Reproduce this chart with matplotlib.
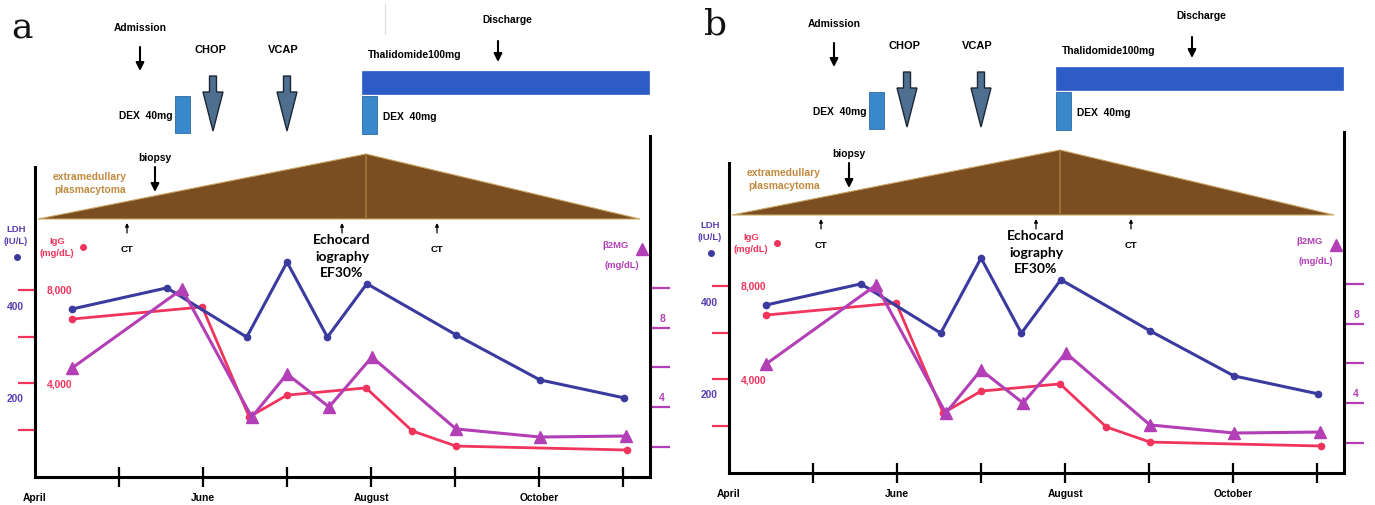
import matplotlib
matplotlib.use('Agg')
import matplotlib.pyplot as plt
from matplotlib.patches import Polygon, Rectangle, FancyArrow
import matplotlib.transforms as mtransforms

# ---------------- data ----------------
month_labels = ['April', 'June', 'August', 'October']
month_label_pos = [0, 2, 4, 6]
month_ticks = [1, 2, 3, 4, 5, 6, 7]

ldh_x = [0.44, 1.57, 2.52, 3.00, 3.48, 3.95, 5.01, 6.01, 7.01]
ldh = [391, 437, 330, 493, 330, 446, 335, 237, 198]

igg_x = [0.44, 1.99, 2.55, 3.00, 3.94, 4.49, 5.01, 7.05]
igg = [6750, 7270, 2540, 3480, 3790, 1940, 1290, 1120]

b2_x = [0.44, 1.75, 2.58, 3.00, 3.50, 4.01, 5.01, 6.01, 7.03]
b2 = [5.97, 9.97, 3.49, 5.67, 4.00, 6.53, 2.89, 2.48, 2.53]

igg_ticks = [2000, 4000, 6000, 8000]
igg_labels = {8000: '8,000', 4000: '4,000'}
ldh_ticks = [200, 400]
b2_ticks = [2, 4, 6, 8, 10]
b2_labels = {8: '8', 4: '4'}

# ---------------- style ----------------
W, H = 1375, 506
C_LDH = '#3b3a9f'
C_LDH_TXT = '#5b3fae'
C_IGG = '#f0345c'
C_B2 = '#b23fb5'
C_BROWN = '#7b4e22'
C_TAN = '#c08a40'
C_THAL = '#2d5cc6'
C_DEX = '#3a88cc'
C_ARROW = '#4f6f90'
FONT = 'Liberation Sans'
FS = 7.4

fig = plt.figure(figsize=(13.75, 5.06), dpi=100)
fig.patch.set_facecolor('white')

ov = fig.add_axes([0, 0, 1, 1])
ov.set_xlim(0, W)
ov.set_ylim(H, 0)
ov.axis('off')


def fig_axes(x0, y0, x1, y1):
    return fig.add_axes([x0 / W, 1 - y1 / H, (x1 - x0) / W, (y1 - y0) / H])


def panel(ox, oy, letter):
    def T(x, y, s, **kw):
        d = dict(ha='center', va='center', fontsize=FS, fontweight='bold',
                 family=FONT, color='black')
        d.update(kw)
        ov.text(x + ox, y + oy, s, **d)

    def arrow(x, y0, y1, lw=1.5, ms=12):
        ov.annotate('', xy=(x + ox, y1 + oy), xytext=(x + ox, y0 + oy),
                    arrowprops=dict(arrowstyle='-|>', lw=lw, color='black',
                                    mutation_scale=ms, shrinkA=0, shrinkB=0))

    # panel letter
    ov.text(22 + ox, 28 + oy, letter, ha='center', va='center',
            fontsize=26, family='DejaVu Serif', color='#111111')

    # top timeline
    T(140, 28, 'Admission')
    arrow(140, 48, 72)
    T(211, 50, 'CHOP', fontsize=7.9)
    T(283, 50, 'VCAP', fontsize=7.9)
    for xc in (213, 287):
        ov.add_patch(FancyArrow(xc + ox, 77 + oy, 0, 55, width=7,
                                head_width=20, head_length=39,
                                length_includes_head=True, fc=C_ARROW,
                                ec='#1c2733', lw=1.0))
    T(173, 116, 'DEX  40mg', ha='right')
    ov.add_patch(Rectangle((175 + ox, 97 + oy), 15, 37, fc=C_DEX,
                           ec='#2a6aa8', lw=0.6))
    T(507, 20, 'Discharge')
    arrow(498, 42, 63)
    T(368, 55, 'Thalidomide100mg', ha='left')
    ov.add_patch(Rectangle((362 + ox, 72 + oy), 287, 23, fc=C_THAL,
                           ec=C_THAL, lw=0.5))
    ov.add_patch(Rectangle((362 + ox, 97 + oy), 15, 38, fc=C_DEX,
                           ec='#2a6aa8', lw=0.6))
    T(383, 117, 'DEX  40mg', ha='left')

    # plasmacytoma
    T(155, 158, 'biopsy')
    arrow(155, 168, 193)
    T(90, 177, 'extramedullary', color=C_TAN)
    T(90, 190, 'plasmacytoma', color=C_TAN)
    ov.add_patch(Polygon([(38 + ox, 220 + oy), (366 + ox, 155 + oy),
                          (640 + ox, 220 + oy)], closed=True, fc=C_BROWN,
                         ec='#c9a766', lw=0.8))
    ov.plot([366 + ox, 366 + ox], [156 + oy, 219 + oy], color='#9c7434', lw=1.4)

    # small arrows: CT, echo, CT
    for xa in (127, 342, 437):
        arrow(xa, 234, 224, lw=0.9, ms=5)
    T(127, 250, 'CT', fontsize=6.8)
    T(437, 250, 'CT', fontsize=6.8)
    for yy, s in ((240, 'Echocard'), (257, 'iography'), (273, 'EF30%')):
        ov.text(342 + ox, yy + oy, s, ha='center', va='center', fontsize=10,
                fontweight='bold', family='Lato', color='black')

    # axis legends
    T(16, 230, 'LDH', color=C_LDH_TXT, fontsize=6.8)
    T(16, 242, '(IU/L)', color=C_LDH_TXT, fontsize=6.8)
    ov.plot(17 + ox, 258 + oy, 'o', color=C_LDH, ms=4)
    T(57, 241, 'IgG', color=C_IGG, fontsize=6.8)
    T(57, 253, '(mg/dL)', color=C_IGG, fontsize=6.8)
    ov.plot(83 + ox, 248 + oy, 'o', color=C_IGG, ms=4)
    T(616, 245, 'β2MG', color=C_B2, fontsize=6.8)
    ov.plot(642 + ox, 250 + oy, '^', color=C_B2, ms=9)
    T(622, 265, '(mg/dL)', color=C_B2, fontsize=6.8)

    # ---------------- data axes ----------------
    ax = fig_axes(35 + ox, 137 + oy, 650 + ox, 478 + oy)
    ax.patch.set_alpha(0)
    ax.set_xlim(0, 7.32)
    ax.set_ylim(-40, 14620)
    axl = ax.twinx()
    axb = ax.twinx()
    axl.set_ylim(26, 767)
    axb.set_ylim(0.456, 17.72)

    for a in (ax, axl, axb):
        for s in a.spines.values():
            s.set_visible(False)
        a.patch.set_alpha(0)

    ax.spines['left'].set_visible(True)
    ax.spines['left'].set_linewidth(2.2)
    ax.spines['left'].set_bounds(-40, 13290)
    ax.spines['bottom'].set_visible(True)
    ax.spines['bottom'].set_linewidth(2.2)
    axb.spines['right'].set_visible(True)
    axb.spines['right'].set_linewidth(2.2)

    # x ticks
    ax.xaxis.remove_overlapping_locs = False
    ax.set_xticks(month_ticks)
    ax.set_xticklabels([])
    ax.tick_params(axis='x', which='major', direction='inout', length=14.5,
                   width=1.6, color='black')
    ax.set_xticks(month_label_pos, minor=True)
    ax.set_xticklabels(month_labels, minor=True)
    ax.tick_params(axis='x', which='minor', length=0, pad=11, labelsize=FS)
    for lab in ax.get_xticklabels(minor=True):
        lab.set_fontweight('bold')
        lab.set_family(FONT)

    # IgG ticks (left, red)
    ax.set_yticks(igg_ticks)
    ax.set_yticklabels([])
    ax.tick_params(axis='y', which='major', direction='out', length=12,
                   width=1.6, color=C_IGG)
    for v, s in igg_labels.items():
        ax.text(0.04, v, s, transform=ax.get_yaxis_transform(), ha='center',
                va='center', fontsize=FS, fontweight='bold', family=FONT,
                color=C_IGG)

    # LDH labels (left, no tick marks)
    axl.yaxis.tick_left()
    axl.set_yticks(ldh_ticks)
    axl.set_yticklabels([str(t) for t in ldh_ticks])
    axl.tick_params(axis='y', length=0, pad=8, labelsize=FS,
                    labelcolor=C_LDH_TXT)
    for lab in axl.get_yticklabels():
        lab.set_fontweight('bold')
        lab.set_family(FONT)
    axl.tick_params(axis='x', bottom=False, labelbottom=False)

    # b2MG ticks (right, purple)
    axb.set_yticks(b2_ticks)
    axb.set_yticklabels([])
    axb.tick_params(axis='y', direction='out', length=14.5, width=1.6,
                    color=C_B2)
    off = mtransforms.ScaledTranslation(12 / 100, 10 / 100, fig.dpi_scale_trans)
    for v, s in b2_labels.items():
        axb.text(1.0, v, s, transform=axb.get_yaxis_transform() + off,
                 ha='center', va='center', fontsize=FS, fontweight='bold',
                 family=FONT, color=C_B2)

    # series
    ax.plot(igg_x, igg, '-o', color=C_IGG, lw=2.0, ms=4.5, zorder=3)
    axl.plot(ldh_x, ldh, '-o', color=C_LDH, lw=2.2, ms=4.5, zorder=3)
    axb.plot(b2_x, b2, '-^', color=C_B2, lw=2.2, ms=9, zorder=3)


panel(0, 0, 'a')
panel(694, -4, 'b')

# faint artifact line at top of panel a
ov.plot([385, 385], [5, 35], color='#dddddd', lw=0.8)

fig.savefig('out.png', dpi=100, facecolor='white')
